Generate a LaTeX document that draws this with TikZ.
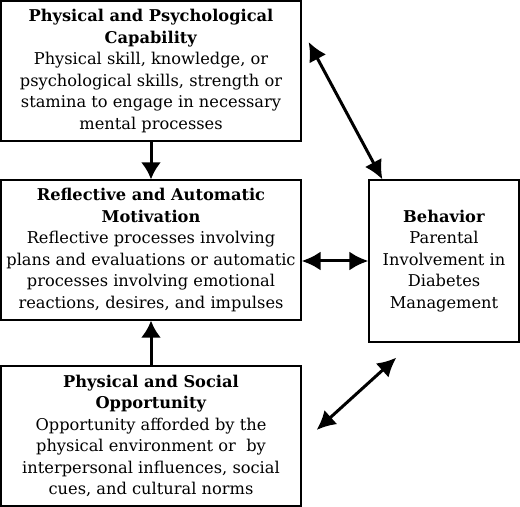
\documentclass[tikz,border=0pt]{standalone}
\usepackage{fontspec}
\setmainfont{DejaVu Serif}
\usetikzlibrary{arrows.meta,positioning,calc}

\tikzset{
  box/.style={draw,line width=1.2bp,minimum width=300bp,minimum height=140bp,
     inner sep=0pt,align=center,font=\fontsize{16.3}{21.6}\selectfont},
  link/.style={line width=3bp,-{Latex[length=17bp,width=20bp]}},
  twolink/.style={line width=3bp,{Latex[length=19bp,width=19bp]}-{Latex[length=19bp,width=19bp]}}
}

\begin{document}
\begin{tikzpicture}[x=1bp,y=1bp]

\useasboundingbox (0,0) rectangle (520,507);

\node[box] (cap) at (151,436)
  {\textbf{Physical and Psychological}\\\textbf{Capability}\\
   Physical skill, knowledge, or\\psychological skills, strength or\\
   stamina to engage in necessary\\mental processes};
\node[box] (mot) at (151,257)
  {\textbf{Reflective and Automatic}\\\textbf{Motivation}\\
   Reflective processes involving\\plans and evaluations or automatic\\
   processes involving emotional\\reactions, desires, and impulses};
\node[box] (opp) at (151,71)
  {\textbf{Physical and Social}\\\textbf{Opportunity}\\
   Opportunity afforded by the\\physical environment or\ \ by\\
   interpersonal influences, social\\cues, and cultural norms};
\node[box,minimum width=150bp,minimum height=162bp] (beh) at (444,246)
  {\textbf{Behavior}\\Parental\\Involvement in\\Diabetes\\Management};

\coordinate (capend) at ($(cap.east)+(7,29)$);
\coordinate (behtop) at ($(beh.north west)+(14,0)$);
\coordinate (oppend) at ($(opp.east)+(15,6)$);
\coordinate (behbot) at ($(beh.south west)+(28,-15)$);

\draw[link] (cap.south) -- (mot.north);
\draw[link] (opp.north) -- (mot.south);
\draw[twolink] (mot.east |- beh.west) -- (beh.west);
\draw[twolink] (capend) -- (behtop);
\draw[twolink] (oppend) -- (behbot);

\end{tikzpicture}
\end{document}
